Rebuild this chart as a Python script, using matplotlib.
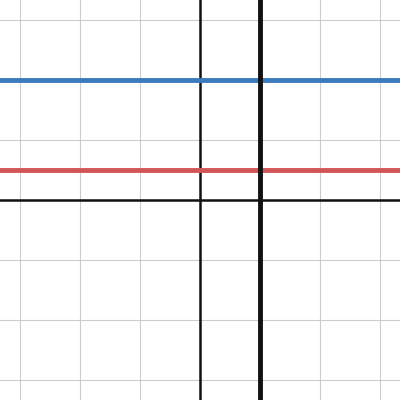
import numpy as np
import matplotlib.pyplot as plt

# horizontal lines y = const, vertical line x = const
h_values = [2, 0.5]
h_colors = ["#3a7abf", "#d05656"]
v_values = [1]

lim = 200 / 60
fig = plt.figure(figsize=(4, 4), dpi=100)
ax = fig.add_axes([0, 0, 1, 1])
ax.set_xlim(-lim, lim)
ax.set_ylim(-lim, lim)

ticks = np.arange(-3, 4)
for t in ticks:
    ax.axvline(t, color="#cccccc", lw=0.8, zorder=0)
    ax.axhline(t, color="#cccccc", lw=0.8, zorder=0)
ax.axvline(0, color="#111111", lw=1.8, zorder=1)
ax.axhline(0, color="#111111", lw=1.8, zorder=1)

for y, c in zip(h_values, h_colors):
    ax.axhline(y, color=c, lw=3.5, zorder=2)
for x in v_values:
    ax.axvline(x, color="#111111", lw=3.5, zorder=3)

ax.set_axis_off()
fig.savefig("out.png", dpi=100)
